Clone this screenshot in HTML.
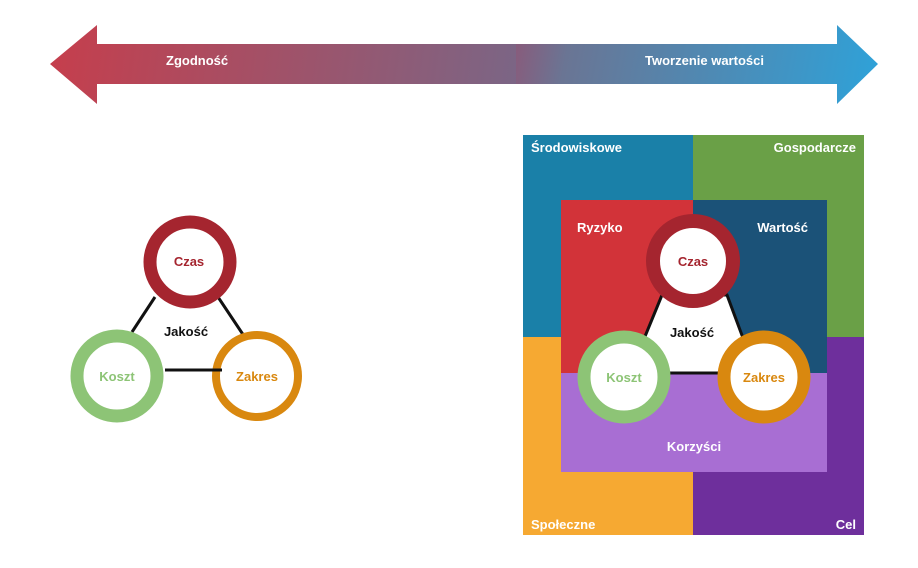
<!DOCTYPE html>
<html><head><meta charset="utf-8"><style>
body{margin:0;background:#fff;width:918px;height:563px;overflow:hidden;font-family:"Liberation Sans",sans-serif}
</style></head><body>
<svg width="918" height="563" viewBox="0 0 918 563" xmlns="http://www.w3.org/2000/svg" font-family="Liberation Sans, DejaVu Sans, sans-serif" font-weight="bold">
<defs>
<linearGradient id="g1" x1="50" y1="30" x2="520" y2="100" gradientUnits="userSpaceOnUse">
<stop offset="0" stop-color="#c63e4c"/><stop offset="1" stop-color="#7a6686"/></linearGradient>
<linearGradient id="g2" x1="515" y1="30" x2="878" y2="100" gradientUnits="userSpaceOnUse">
<stop offset="0" stop-color="#8a5a7a"/><stop offset="0.15" stop-color="#6a7594"/><stop offset="1" stop-color="#2ea2d9"/></linearGradient>
</defs>
<polygon points="50,64 97,25 97,44 517,44 517,84 97,84 97,104" fill="url(#g1)"/>
<polygon points="516,44 837,44 837,25 878,64 837,104 837,84 516,84" fill="url(#g2)"/>
<text x="166" y="65" fill="#fff" font-size="13">Zgodność</text>
<text x="645" y="65" fill="#fff" font-size="13">Tworzenie wartości</text>

<g stroke="#111" stroke-width="3">
<line x1="155" y1="297" x2="132" y2="332"/>
<line x1="218" y1="297" x2="248" y2="342"/>
<line x1="165" y1="370" x2="222" y2="370"/>
</g>
<circle cx="190" cy="262" r="40" fill="#fff" stroke="#a5252f" stroke-width="13"/>
<circle cx="117" cy="376" r="40" fill="#fff" stroke="#8dc476" stroke-width="13"/>
<circle cx="257" cy="376" r="41" fill="#fff" stroke="#d9880f" stroke-width="8"/>
<line x1="205" y1="370" x2="222" y2="370" stroke="#111" stroke-width="3"/>
<text x="189" y="266" fill="#a5252f" font-size="13" text-anchor="middle">Czas</text>
<text x="117" y="381" fill="#8dc476" font-size="13" text-anchor="middle">Koszt</text>
<text x="257" y="381" fill="#d9880f" font-size="13" text-anchor="middle">Zakres</text>
<text x="186" y="336" fill="#111" font-size="13" text-anchor="middle">Jakość</text>

<rect x="523" y="135" width="170" height="202" fill="#1a80a8"/>
<rect x="693" y="135" width="171" height="202" fill="#6aa047"/>
<rect x="523" y="337" width="170" height="198" fill="#f6a932"/>
<rect x="693" y="337" width="171" height="198" fill="#6e2f9c"/>
<rect x="561" y="200" width="132" height="173" fill="#d23339"/>
<rect x="693" y="200" width="134" height="173" fill="#1b5278"/>
<rect x="561" y="373" width="266" height="99" fill="#a86ed3"/>
<polygon points="662,295 727,295 756,373 630,373" fill="#fff" stroke="#111" stroke-width="3"/>
<circle cx="693" cy="261" r="40" fill="#fff" stroke="#a5252f" stroke-width="14"/>
<circle cx="624" cy="377" r="40" fill="#fff" stroke="#8dc476" stroke-width="13"/>
<circle cx="764" cy="377" r="40" fill="#fff" stroke="#d9880f" stroke-width="13"/>
<text x="693" y="266" fill="#a5252f" font-size="13" text-anchor="middle">Czas</text>
<text x="624" y="382" fill="#8dc476" font-size="13" text-anchor="middle">Koszt</text>
<text x="764" y="382" fill="#d9880f" font-size="13" text-anchor="middle">Zakres</text>
<text x="692" y="337" fill="#111" font-size="13" text-anchor="middle">Jakość</text>
<g fill="#fff" font-size="13">
<text x="531" y="152">Środowiskowe</text>
<text x="856" y="152" text-anchor="end">Gospodarcze</text>
<text x="577" y="232">Ryzyko</text>
<text x="808" y="232" text-anchor="end">Wartość</text>
<text x="694" y="451" text-anchor="middle">Korzyści</text>
<text x="531" y="529">Społeczne</text>
<text x="856" y="529" text-anchor="end">Cel</text>
</g>
</svg>
</body></html>
